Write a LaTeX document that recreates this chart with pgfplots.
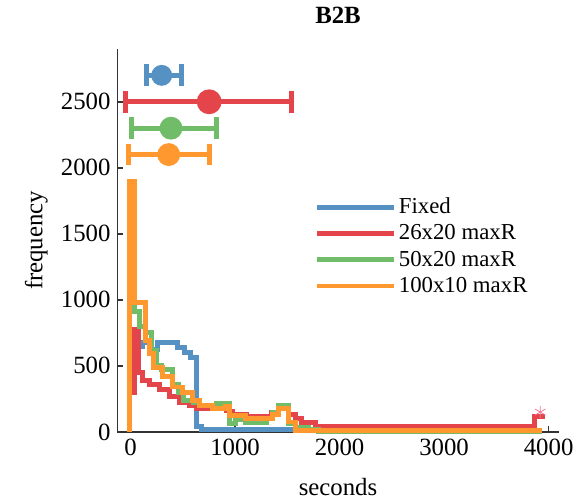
\documentclass[border=0pt]{standalone}
\usepackage{fontspec}
\setmainfont{Liberation Serif}
\usepackage{pgfplots}
\pgfplotsset{compat=1.18}

\definecolor{cFixed}{RGB}{86,145,196}
\definecolor{cRed}{RGB}{228,69,75}
\definecolor{cGreen}{RGB}{112,188,104}
\definecolor{cOrange}{RGB}{255,152,46}
\definecolor{cStar}{RGB}{240,120,150}

\pgfplotsset{
  spread/.style 2 args={forget plot, #1, line width=2.5pt, mark=*, mark size=#2,
    error bars/.cd, x dir=both, x explicit,
    error bar style={line width=2.5pt, #1},
    error mark=|,
    error mark options={line width=2.5pt, mark size=5.5pt, #1},
    /pgfplots/.cd},
}

\begin{document}
\begin{tikzpicture}
\begin{axis}[
  name=ax,
  scale only axis,
  width=222.4pt, height=193.1pt,
  xmin=-125, xmax=4095,
  ymin=0, ymax=2900,
  axis lines=left,
  axis line style={-, line width=0.8pt, black!80},
  tick align=inside,
  major tick length=3pt,
  tick style={line width=0.8pt, black!80},
  xtick={0,1000,2000,3000,4000},
  ytick={0,500,1000,1500,2000,2500},
  /pgf/number format/assume math mode=true,
  /pgf/number format/1000 sep={},
  ticklabel style={font=\fontsize{12.5}{15}\selectfont},
  xlabel={seconds},
  ylabel={frequency},
  xlabel style={font=\fontsize{12.5}{15}\selectfont, at={(axis description cs:0.5,-0.143)}, anchor=center},
  ylabel style={font=\fontsize{12.5}{15}\selectfont, at={(axis description cs:-0.184,0.5)}, anchor=center},
  title={\textbf{B2B}},
  title style={font=\fontsize{12.5}{15}\selectfont, at={(axis description cs:0.5,1.058)}, anchor=center},
  legend style={draw=none, fill=none, font=\fontsize{11.5}{13}\selectfont,
    at={(axis description cs:0.446,0.622)}, anchor=north west,
    row sep=0pt, inner sep=0pt, legend cell align=left,
    nodes={inner xsep=1pt}},
  legend image code/.code={\draw[#1, line width=2.5pt] (0pt,0pt) -- (39pt,0pt);},
  clip=false,
]
% histograms of the run times, drawn as stairs
\addplot[const plot, cFixed, line width=2.5pt, line join=miter] coordinates {
  (-10,0) (-10,650) (110,680) (190,625) (260,675) (450,640) (520,600)
  (570,565) (635,40) (680,15) (1550,15)
};
\addlegendentry{Fixed}
\addplot[const plot, cRed, line width=2.5pt, line join=miter] coordinates {
  (-10,300) (40,775) (80,450) (110,390) (180,360) (275,323) (370,271)
  (465,225) (560,200) (630,175) (914,158) (971,135) (1105,113) (1352,150)
  (1419,188) (1514,135) (1581,98) (1638,68) (1771,38) (3867,113) (3962,113)
};
\addlegendentry{26x20 maxR}
\addplot[const plot, cGreen, line width=2.5pt, line join=miter] coordinates {
  (-10,0) (-10,1500) (40,910) (85,800) (140,750) (200,620) (250,500)
  (300,470) (400,360) (460,300) (510,240) (600,225) (660,200) (820,215)
  (945,60) (1000,90) (1100,70) (1300,100) (1360,150) (1420,200) (1515,60)
  (1580,30) (1700,20) (1800,5) (3940,5)
};
\addlegendentry{50x20 maxR}
\addplot[const plot, cOrange, line width=2.5pt, line join=miter] coordinates {
  (-10,0) (-10,1900) (40,980) (140,690) (185,590) (215,490) (305,420)
  (400,340) (500,300) (595,235) (660,200) (780,180) (910,190) (945,125)
  (1100,98) (1355,130) (1420,175) (1515,75) (1580,8) (3940,8)
};
\addlegendentry{100x10 maxR}
% outlier
\addplot[only marks, mark=asterisk, mark size=3pt, cStar, forget plot] coordinates {(3920,150)};
% mean and spread of each method
\addplot[spread={cFixed}{4pt}]
  coordinates {(298,2700) -= (150,0) += (185,0)};
\addplot[spread={cRed}{5pt}]
  coordinates {(752,2500) -= (797,0) += (791,0)};
\addplot[spread={cGreen}{4.5pt}]
  coordinates {(387,2300) -= (381,0) += (432,0)};
\addplot[spread={cOrange}{4.5pt}]
  coordinates {(365,2100) -= (381,0) += (387,0)};
\end{axis}
\path (ax.south west) ++(-59.25pt,-34.75pt) rectangle ++(290pt,249.5pt);
\end{tikzpicture}
\end{document}
